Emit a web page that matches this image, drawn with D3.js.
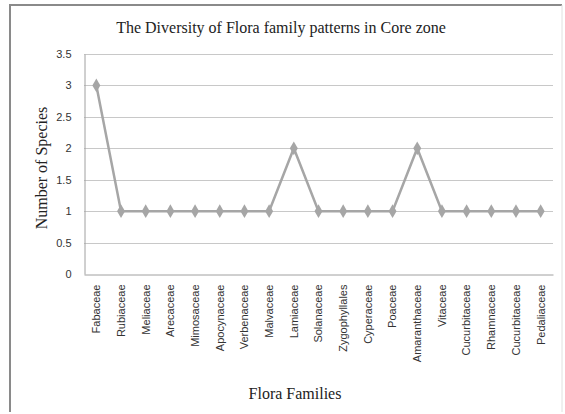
<!DOCTYPE html>
<html><head><meta charset="utf-8">
<script src="https://cdn.jsdelivr.net/npm/d3@7"></script>
<style>body{margin:0;background:#fff}svg{display:block}</style>
</head><body>
<script>
const families = ["Fabaceae","Rubiaceae","Meliaceae","Arecaceae","Mimosaceae","Apocynaceae","Verbenaceae","Malvaceae","Lamiaceae","Solanaceae","Zygophyllales","Cyperaceae","Poaceae","Amaranthaceae","Vitaceae","Cucurbitaceae","Rhamnaceae","Cucurbitaceae","Pedaliaceae"];
const species = [3,1,1,1,1,1,1,1,2,1,1,1,1,2,1,1,1,1,1];
const yTicks = [0,0.5,1,1.5,2,2.5,3,3.5];

const W=565,H=414;
const svg=d3.select("body").append("svg").attr("width",W).attr("height",H);
svg.append("rect").attr("width",W).attr("height",H).attr("fill","#fff");
// frame
svg.append("path").attr("d","M10,412 L10,5 L562,5").attr("fill","none").attr("stroke","#8a8a8a").attr("stroke-width",2);
svg.append("line").attr("x1",562).attr("x2",562).attr("y1",5).attr("y2",412).attr("stroke","#e0e0e0").attr("stroke-width",1);

const pLeft=84,pRight=553,pTop=54,pBottom=274;
const x=d3.scaleBand().domain(d3.range(families.length)).range([pLeft,pRight]);
const y=d3.scaleLinear().domain([0,3.5]).range([pBottom,pTop]);

// gridlines
svg.append("g").selectAll("line").data(yTicks.filter(d=>d>0)).join("line")
 .attr("x1",pLeft).attr("x2",pRight).attr("y1",d=>Math.round(y(d))+0.5).attr("y2",d=>Math.round(y(d))+0.5)
 .attr("stroke","#c8c8c8").attr("stroke-width",1.2);

// axes
const ya=svg.append("g").attr("transform",`translate(${pLeft+0.5},0)`)
 .call(d3.axisLeft(y).tickValues(yTicks).tickSize(0).tickPadding(13).tickFormat(d3.format("")));
ya.select(".domain").attr("stroke","#a0a0a0");
ya.selectAll("text").attr("font-family","Liberation Sans Narrow, Liberation Sans, Arial, sans-serif").attr("font-size",11).attr("fill","#333");

const xa=svg.append("g").attr("transform",`translate(0,${pBottom+0.5})`)
 .call(d3.axisBottom(x).tickSize(0).tickFormat(i=>families[i]));
xa.select(".domain").attr("stroke","#a0a0a0");
xa.selectAll("text").attr("font-family","Liberation Sans, Arial, sans-serif").attr("font-size",11).attr("fill","#333")
 .attr("transform","rotate(-90)").attr("text-anchor","end").attr("dx","-10px").attr("dy","0.35em").attr("y",0);

// line
const line=d3.line().x((d,i)=>x(i)+x.bandwidth()/2).y(d=>y(d));
svg.append("path").datum(species).attr("d",line).attr("fill","none").attr("stroke","#a6a6a6").attr("stroke-width",2.5);
svg.append("g").selectAll("path").data(species).join("path")
 .attr("d",d3.symbol(d3.symbolDiamond,55)())
 .attr("transform",(d,i)=>`translate(${x(i)+x.bandwidth()/2},${y(d)})`)
 .attr("fill","#a6a6a6");

// titles
svg.append("text").attr("x",281).attr("y",33).attr("text-anchor","middle")
 .attr("font-family","Liberation Serif, Times New Roman, serif").attr("font-size",16).attr("fill","#222")
 .text("The Diversity of Flora family patterns in Core zone");
svg.append("text").attr("transform","translate(47,168) rotate(-90)").attr("text-anchor","middle")
 .attr("font-family","Liberation Serif, Times New Roman, serif").attr("font-size",16).attr("fill","#222")
 .text("Number of Species");
svg.append("text").attr("x",295).attr("y",399).attr("text-anchor","middle")
 .attr("font-family","Liberation Serif, Times New Roman, serif").attr("font-size",16).attr("fill","#222")
 .text("Flora Families");
</script>
</body></html>
